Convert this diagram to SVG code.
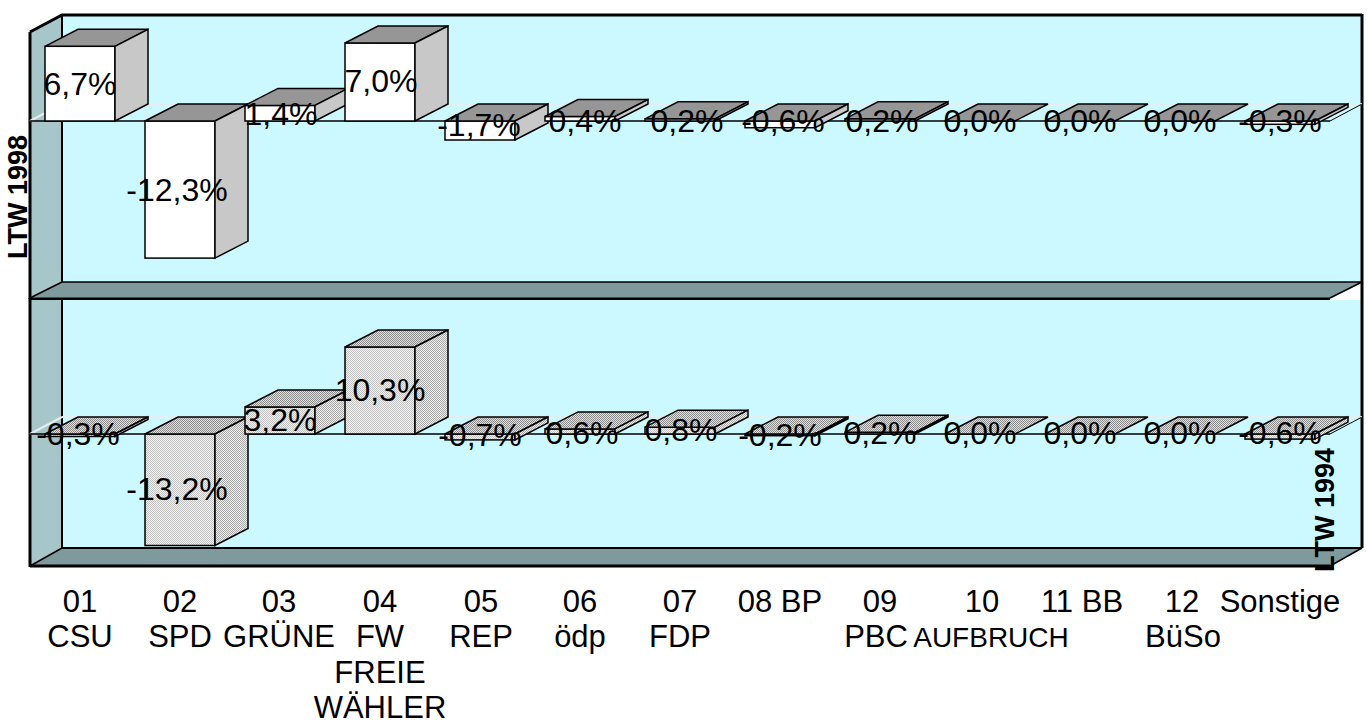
<svg xmlns="http://www.w3.org/2000/svg" width="1369" height="723" viewBox="0 0 1369 723">
<defs>
<pattern id="pf" width="2" height="2" patternUnits="userSpaceOnUse"><rect width="2" height="2" fill="#f2f2f2"/><rect width="1" height="1" fill="#c2c2c2"/><rect x="1" y="1" width="1" height="1" fill="#c2c2c2"/></pattern>
<pattern id="pt" width="2" height="2" patternUnits="userSpaceOnUse"><rect width="2" height="2" fill="#dedede"/><rect width="1" height="1" fill="#8e8e8e"/><rect x="1" y="1" width="1" height="1" fill="#8e8e8e"/></pattern>
<pattern id="ps" width="2" height="2" patternUnits="userSpaceOnUse"><rect width="2" height="2" fill="#eeeeee"/><rect width="1" height="1" fill="#a8a8a8"/><rect x="1" y="1" width="1" height="1" fill="#a8a8a8"/></pattern>
<style>
.back{fill:#ccf8ff}
.side{fill:#a6c6ca}
.floor{fill:#7e9a9c}
.e3{fill:none;stroke:#000;stroke-width:3}
.e2{fill:none;stroke:#000;stroke-width:2}
.e1{fill:none;stroke:#000;stroke-width:1.5}
.zl{fill:none;stroke:#e4eeee;stroke-width:2}
.bar rect,.bar polygon{stroke:#000;stroke-width:1.5;stroke-linejoin:miter}
.f98{fill:#ffffff}.t98{fill:#969696}.s98{fill:#c8c8c8}
.f94{fill:url(#pf)}.t94{fill:url(#pt)}.s94{fill:url(#ps)}
text{font-family:"Liberation Sans",Arial,sans-serif;fill:#000;text-anchor:middle}
.val{font-size:32px}
.cat{font-size:31px}
.axis{font-size:27px;font-weight:bold}
</style>
</defs>
<rect width="1369" height="723" fill="#fff"/>

<g id="panel-1998-walls">
<rect class="back" x="62" y="14" width="1300" height="268"/>
<polygon class="side" points="30,32 62,15 62,282 30,298"/>
<polygon class="floor" points="30,298 62,282 1362,282 1330,298"/>
<path class="e3" d="M30,32 L62,15 L1362,15 M30,32 V299 M1362,14 V282 M30,299 H1330"/>
<path class="e2" d="M62,15 V282"/>
<path class="e1" d="M62,282 H1362 M30,298 L62,282 M1330,298 L1362,282"/>
</g>

<g id="panel-1994-walls">
<rect class="back" x="62" y="300" width="1300" height="248"/>
<polygon class="side" points="30,300 62,300 62,548 30,566"/>
<polygon class="floor" points="30,566 62,548 1362,548 1330,566"/>
<path class="e3" d="M30,298 V567 M1362,282 V548 M30,566 H1330"/>
<path class="e2" d="M62,300 V548 M62,548 H1362"/>
<path class="e1" d="M30,566 L62,548 M1330,566 L1362,548"/>
</g>

<g id="zero-planes">
<path class="zl" d="M62,104 H1362 M30,121 L62,104 M62,417 H1362 M30,434 L62,417"/>
<path class="e1" d="M30,121 H1330 M30,434 H1330"/>
<path fill="none" stroke="#000" stroke-width="1" d="M1330,121 L1362,104 M1330,434 L1362,417"/>
</g>

<g id="bars-1998" class="bar">
<g id="b98-01"><rect class="f98" x="45" y="46.3" width="70" height="74.7"/><polygon class="t98" points="45,46.3 115,46.3 148,29.3 78,29.3"/><polygon class="s98" points="115,46.3 148,29.3 148,104 115,121"/></g>
<g id="b98-02"><rect class="f98" x="145" y="121" width="70" height="137.1"/><polygon class="t98" points="145,121 215,121 248,104 178,104"/><polygon class="s98" points="215,121 248,104 248,241.1 215,258.1"/></g>
<g id="b98-03"><rect class="f98" x="245" y="105.4" width="70" height="15.6"/><polygon class="t98" points="245,105.4 315,105.4 348,88.4 278,88.4"/><polygon class="s98" points="315,105.4 348,88.4 348,104 315,121"/></g>
<g id="b98-04"><rect class="f98" x="345" y="43" width="70" height="78"/><polygon class="t98" points="345,43 415,43 448,26 378,26"/><polygon class="s98" points="415,43 448,26 448,104 415,121"/></g>
<g id="b98-05"><rect class="f98" x="445" y="121" width="70" height="19"/><polygon class="t98" points="445,121 515,121 548,104 478,104"/><polygon class="s98" points="515,121 548,104 548,123 515,140"/></g>
<g id="b98-06"><rect class="f98" x="545" y="116.5" width="70" height="4.5"/><polygon class="t98" points="545,116.5 615,116.5 648,99.5 578,99.5"/><polygon class="s98" points="615,116.5 648,99.5 648,104 615,121"/></g>
<g id="b98-07"><rect class="f98" x="645" y="118.8" width="70" height="2.2"/><polygon class="t98" points="645,118.8 715,118.8 748,101.8 678,101.8"/><polygon class="s98" points="715,118.8 748,101.8 748,104 715,121"/></g>
<g id="b98-08"><rect class="f98" x="745" y="121" width="70" height="6.7"/><polygon class="t98" points="745,121 815,121 848,104 778,104"/><polygon class="s98" points="815,121 848,104 848,110.7 815,127.7"/></g>
<g id="b98-09"><rect class="f98" x="845" y="118.8" width="70" height="2.2"/><polygon class="t98" points="845,118.8 915,118.8 948,101.8 878,101.8"/><polygon class="s98" points="915,118.8 948,101.8 948,104 915,121"/></g>
<g id="b98-10"><polygon class="t98" points="945,121 1015,121 1048,104 978,104"/></g>
<g id="b98-11"><polygon class="t98" points="1045,121 1115,121 1148,104 1078,104"/></g>
<g id="b98-12"><polygon class="t98" points="1145,121 1215,121 1248,104 1178,104"/></g>
<g id="b98-13"><rect class="f98" x="1245" y="121" width="70" height="3.3"/><polygon class="t98" points="1245,121 1315,121 1348,104 1278,104"/><polygon class="s98" points="1315,121 1348,104 1348,107.3 1315,124.3"/></g>
</g>

<g id="bars-1994" class="bar">
<g id="b94-01"><rect class="f94" x="45" y="434" width="70" height="2.5"/><polygon class="t94" points="45,434 115,434 148,417 78,417"/><polygon class="s94" points="115,434 148,417 148,419.5 115,436.5"/></g>
<g id="b94-02"><rect class="f94" x="145" y="434" width="70" height="111.5"/><polygon class="t94" points="145,434 215,434 248,417 178,417"/><polygon class="s94" points="215,434 248,417 248,528.5 215,545.5"/></g>
<g id="b94-03"><rect class="f94" x="245" y="407" width="70" height="27"/><polygon class="t94" points="245,407 315,407 348,390 278,390"/><polygon class="s94" points="315,407 348,390 348,417 315,434"/></g>
<g id="b94-04"><rect class="f94" x="345" y="347" width="70" height="87"/><polygon class="t94" points="345,347 415,347 448,330 378,330"/><polygon class="s94" points="415,347 448,330 448,417 415,434"/></g>
<g id="b94-05"><rect class="f94" x="445" y="434" width="70" height="5.9"/><polygon class="t94" points="445,434 515,434 548,417 478,417"/><polygon class="s94" points="515,434 548,417 548,422.9 515,439.9"/></g>
<g id="b94-06"><rect class="f94" x="545" y="428.9" width="70" height="5.1"/><polygon class="t94" points="545,428.9 615,428.9 648,411.9 578,411.9"/><polygon class="s94" points="615,428.9 648,411.9 648,417 615,434"/></g>
<g id="b94-07"><rect class="f94" x="645" y="427.2" width="70" height="6.8"/><polygon class="t94" points="645,427.2 715,427.2 748,410.2 678,410.2"/><polygon class="s94" points="715,427.2 748,410.2 748,417 715,434"/></g>
<g id="b94-08"><rect class="f94" x="745" y="434" width="70" height="1.7"/><polygon class="t94" points="745,434 815,434 848,417 778,417"/><polygon class="s94" points="815,434 848,417 848,418.7 815,435.7"/></g>
<g id="b94-09"><rect class="f94" x="845" y="432.3" width="70" height="1.7"/><polygon class="t94" points="845,432.3 915,432.3 948,415.3 878,415.3"/><polygon class="s94" points="915,432.3 948,415.3 948,417 915,434"/></g>
<g id="b94-10"><polygon class="t94" points="945,434 1015,434 1048,417 978,417"/></g>
<g id="b94-11"><polygon class="t94" points="1045,434 1115,434 1148,417 1078,417"/></g>
<g id="b94-12"><polygon class="t94" points="1145,434 1215,434 1248,417 1178,417"/></g>
<g id="b94-13"><rect class="f94" x="1245" y="434" width="70" height="5.1"/><polygon class="t94" points="1245,434 1315,434 1348,417 1278,417"/><polygon class="s94" points="1315,434 1348,417 1348,422.1 1315,439.1"/></g>
</g>

<g id="labels-1998" class="val">
<text x="80" y="95">6,7%</text>
<text x="177" y="201">-12,3%</text>
<text x="281" y="125">1,4%</text>
<text x="381" y="92">7,0%</text>
<text x="479" y="136">-1,7%</text>
<text x="585" y="132">0,4%</text>
<text x="687" y="132">0,2%</text>
<text x="783" y="132">-0,6%</text>
<text x="882" y="132">0,2%</text>
<text x="980" y="132">0,0%</text>
<text x="1080" y="132">0,0%</text>
<text x="1180" y="132">0,0%</text>
<text x="1280" y="132">-0,3%</text>
</g>

<g id="labels-1994" class="val">
<text x="78" y="445">-0,3%</text>
<text x="177" y="500">-13,2%</text>
<text x="280" y="431">3,2%</text>
<text x="380" y="401">10,3%</text>
<text x="480" y="446">-0,7%</text>
<text x="582" y="444">0,6%</text>
<text x="681" y="441">0,8%</text>
<text x="780" y="446">-0,2%</text>
<text x="880" y="444">0,2%</text>
<text x="980" y="444">0,0%</text>
<text x="1080" y="444">0,0%</text>
<text x="1180" y="444">0,0%</text>
<text x="1280" y="444">-0,6%</text>
</g>

<g id="series-labels" class="axis">
<text transform="translate(27,197) rotate(-90)">LTW 1998</text>
<text transform="translate(1334,510) rotate(-90)">LTW 1994</text>
</g>

<g id="category-labels" class="cat">
<text x="80" y="612">01</text><text x="80" y="647">CSU</text>
<text x="180" y="612">02</text><text x="180" y="647">SPD</text>
<text x="279" y="612">03</text><text x="279" y="647">GRÜNE</text>
<text x="380" y="612">04</text><text x="380" y="647">FW</text><text x="380" y="683">FREIE</text><text x="380" y="718">WÄHLER</text>
<text x="481" y="612">05</text><text x="481" y="647">REP</text>
<text x="580" y="612">06</text><text x="580" y="647">ödp</text>
<text x="680" y="612">07</text><text x="680" y="647">FDP</text>
<text x="780" y="612">08 BP</text>
<text x="880" y="612">09</text><text x="876" y="647">PBC</text>
<text x="982" y="612">10</text><text x="991" y="647" style="font-size:28px">AUFBRUCH</text>
<text x="1082" y="612">11 BB</text>
<text x="1182" y="612">12</text><text x="1183" y="647">BüSo</text>
<text x="1280" y="612">Sonstige</text>
</g>
</svg>
